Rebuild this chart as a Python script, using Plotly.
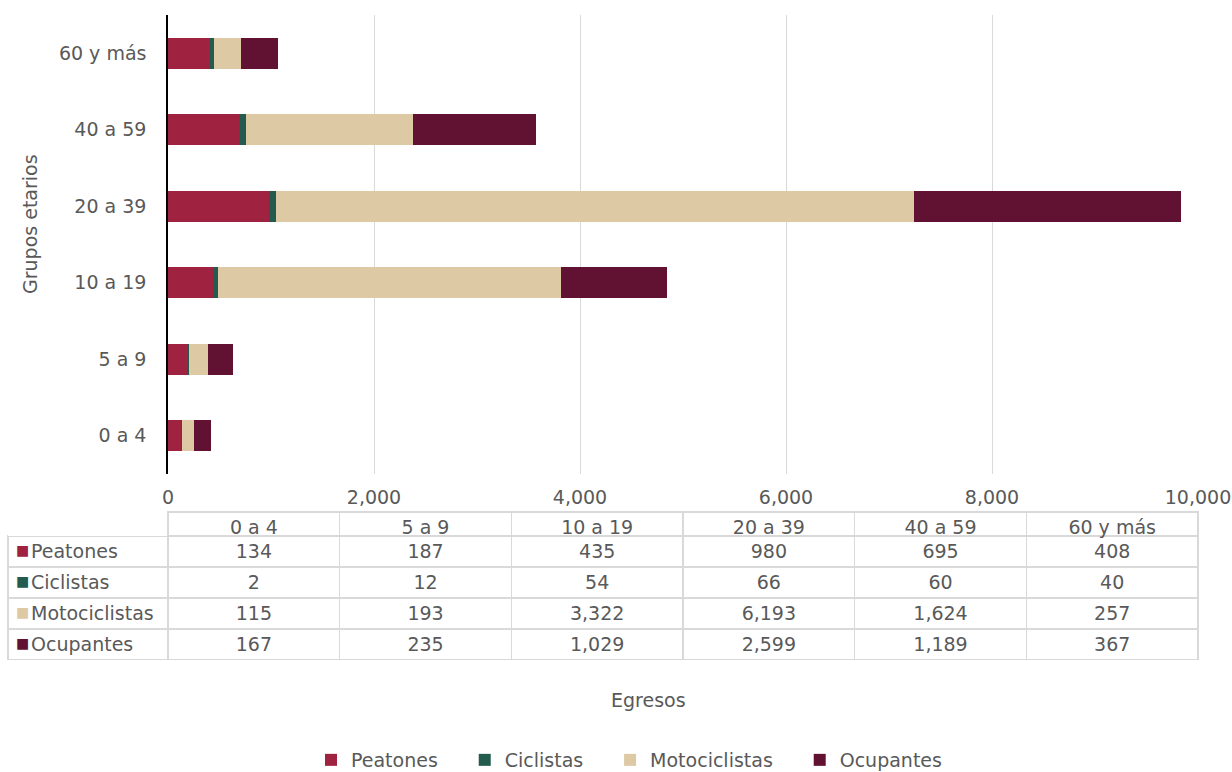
import plotly.graph_objects as go

grupos = ["0 a 4", "5 a 9", "10 a 19", "20 a 39", "40 a 59", "60 y más"]
series_names = ["Peatones", "Ciclistas", "Motociclistas", "Ocupantes"]
peatones = [134, 187, 435, 980, 695, 408]
ciclistas = [2, 12, 54, 66, 60, 40]
motociclistas = [115, 193, 3322, 6193, 1624, 257]
ocupantes = [167, 235, 1029, 2599, 1189, 367]
colores = ["#9F2241", "#235B4E", "#DDC9A3", "#611232"]
x_ticks = [0, 2000, 4000, 6000, 8000, 10000]

valores = [peatones, ciclistas, motociclistas, ocupantes]
FONT = "DejaVu Sans"
FS = 19
TXT = "#595959"
GRID = "#d9d9d9"
NB = "\u00A0"
CLEAR = "rgba(0,0,0,0)"

fig = go.Figure()
for name, vals, col in zip(series_names, valores, colores):
    fig.add_trace(go.Bar(
        y=grupos, x=vals, name=name + NB * 3 + "\u2009", orientation="h",
        marker=dict(color=col, line=dict(width=0)),
        xaxis="x", yaxis="y",
    ))

W = 1190.0
H = 645.0
TABLE_H = 24 + 4 * 31
TY = [0, TABLE_H / H]

# data table grid and values
cols = [[""] * len(series_names)]
for i in range(len(grupos)):
    cols.append([f"{v[i]:,}" for v in valores])

colw = [160] + [(1198 - 168) / 6.0] * 6
fig.add_trace(go.Table(
    domain=dict(x=[0, 1], y=TY),
    columnwidth=colw,
    header=dict(
        values=[""] + grupos,
        height=24,
        align="center",
        fill=dict(color="white"),
        line=dict(color=[CLEAR] + [GRID] * 6, width=1.5),
        font=dict(family=FONT, size=FS, color=TXT),
    ),
    cells=dict(
        values=cols,
        height=31,
        align=["left"] + ["center"] * 6,
        fill=dict(color="white"),
        line=dict(color=GRID, width=1.5),
        font=dict(family=FONT, size=FS, color=TXT),
    ),
))
# row labels
fig.add_trace(go.Table(
    domain=dict(x=[15 / W, 160 / W], y=TY),
    header=dict(values=[""], height=24, fill=dict(color=CLEAR),
                line=dict(color=CLEAR, width=0)),
    cells=dict(
        values=[series_names],
        height=31, align="left",
        fill=dict(color=CLEAR),
        line=dict(color=CLEAR, width=0),
        font=dict(family=FONT, size=FS, color=TXT),
    ),
))
# legend keys inside the table
fig.add_trace(go.Table(
    domain=dict(x=[0, 22 / W], y=TY),
    header=dict(values=[""], height=24, fill=dict(color=CLEAR),
                line=dict(color=CLEAR, width=0)),
    cells=dict(
        values=[["■"] * len(series_names)],
        height=31, align="left",
        fill=dict(color=CLEAR),
        line=dict(color=CLEAR, width=0),
        font=dict(family=FONT, size=14, color=[colores]),
    ),
))

fig.update_layout(
    template="none",
    width=1232, height=772,
    margin=dict(l=8, r=34, t=15, b=112),
    paper_bgcolor="white", plot_bgcolor="white",
    barmode="stack", bargap=0.6,
    font=dict(family=FONT, size=FS, color=TXT),
    xaxis=dict(
        domain=[160 / W, 1], range=[0, 10000], tickvals=x_ticks,
        tickformat=",", showgrid=True, gridcolor=GRID, gridwidth=1,
        zeroline=False, showline=False, ticks="", ticklabelstandoff=10,
        tickfont=dict(family=FONT, size=FS, color=TXT), anchor="y",
        automargin=False,
    ),
    yaxis=dict(
        domain=[(660 - 474) / H, 1], showline=True, linecolor="black", linewidth=1.5,
        showgrid=False, ticks="", ticklabelstandoff=16,
        tickfont=dict(family=FONT, size=FS, color=TXT), anchor="x",
        automargin=False,
    ),
    showlegend=True,
    legend=dict(
        orientation="h", xref="container", yref="container",
        x=640 / 1232, xanchor="center", y=(772 - 760) / 772.0, yanchor="middle",
        font=dict(family=FONT, size=FS, color=TXT), itemwidth=30,
        traceorder="normal", bgcolor=CLEAR,
    ),
    annotations=[
        dict(text="Grupos etarios", x=(30 - 8) / W, y=(660 - 224) / H,
             xref="paper", yref="paper", showarrow=False, textangle=-90,
             xanchor="center", yanchor="middle",
             font=dict(family=FONT, size=FS, color=TXT)),
        dict(text="Egresos", x=(648 - 8) / W, y=(660 - 700) / H,
             xref="paper", yref="paper", showarrow=False,
             xanchor="center", yanchor="middle",
             font=dict(family=FONT, size=FS, color=TXT)),
    ],
)

fig.write_html("out.html", config={"displayModeBar": False},
               post_script="document.body.style.margin='0px';")
